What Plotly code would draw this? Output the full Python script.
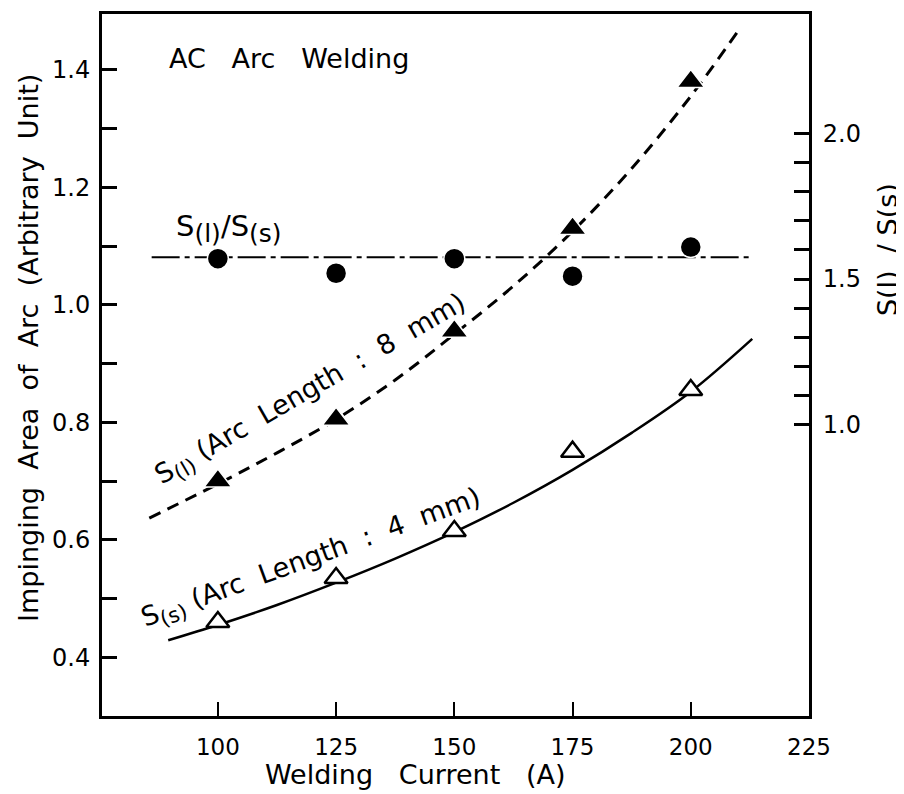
import plotly.graph_objects as go

# ---- data ----
current = [100, 125, 150, 175, 200]
s_large = [0.70, 0.805, 0.955, 1.13, 1.38]      # S(l), arc length 8 mm (filled triangles)
s_small = [0.46, 0.535, 0.615, 0.75, 0.855]     # S(s), arc length 4 mm (open triangles)
ratio = [1.57, 1.52, 1.57, 1.51, 1.61]          # S(l)/S(s) (filled circles, right axis)

curve_l_x = [85.5, 100, 112.5, 125, 137.5, 150, 162.5, 175, 187.5, 200, 210]
curve_l_y = [0.637, 0.695, 0.748, 0.805, 0.872, 0.95, 1.032, 1.125, 1.232, 1.355, 1.466]
curve_s_x = [89.5, 100, 112.5, 125, 137.5, 150, 162.5, 175, 187.5, 200, 213]
curve_s_y = [0.429, 0.455, 0.489, 0.527, 0.568, 0.613, 0.663, 0.719, 0.782, 0.852, 0.942]
ratio_line_x = [86, 213]
ratio_line_y = [1.575, 1.575]

x_ticks = [100, 125, 150, 175, 200, 225]
y_ticks = [0.4, 0.5, 0.6, 0.7, 0.8, 0.9, 1.0, 1.1, 1.2, 1.3, 1.4]
y_labels = ["0.4", "", "0.6", "", "0.8", "", "1.0", "", "1.2", "", "1.4"]
y2_ticks = [1.0, 1.1, 1.2, 1.3, 1.4, 1.5, 1.6, 1.7, 1.8, 1.9, 2.0]
y2_labels = ["1.0", "", "", "", "", "1.5", "", "", "", "", "2.0"]

FONT = "DejaVu Sans"
BLACK = "black"


def sub(t, size):
    return "<sub><span style='font-size:%dpx'>%s</span></sub>" % (size, t)


fig = go.Figure()

# curves
fig.add_trace(go.Scatter(x=curve_l_x, y=curve_l_y, mode="lines", line_shape="spline",
                         line=dict(color=BLACK, width=3, dash="12px,8px"), hoverinfo="skip"))
fig.add_trace(go.Scatter(x=curve_s_x, y=curve_s_y, mode="lines", line_shape="spline",
                         line=dict(color=BLACK, width=2.5), hoverinfo="skip"))
fig.add_trace(go.Scatter(x=ratio_line_x, y=ratio_line_y, mode="lines", yaxis="y2",
                         line=dict(color=BLACK, width=2, dash="28px,5px,5px,5px"), hoverinfo="skip"))

# markers
fig.add_trace(go.Scatter(x=current, y=s_large, mode="markers",
                         marker=dict(symbol="triangle-up", size=24, color=BLACK,
                                     line=dict(color="white", width=1.5))))
fig.add_trace(go.Scatter(x=current, y=s_small, mode="markers",
                         marker=dict(symbol="triangle-up", size=20, color="white",
                                     line=dict(color=BLACK, width=2.5))))
fig.add_trace(go.Scatter(x=current, y=ratio, mode="markers", yaxis="y2",
                         marker=dict(symbol="circle", size=21, color=BLACK,
                                     line=dict(color="white", width=1.5))))

C = dict(showarrow=False, xanchor="center", yanchor="middle")
annotations = [
    dict(text="AC   Arc   Welding", x=0.264, y=0.936, xref="paper", yref="paper",
         font=dict(size=27), **C),
    dict(text="S" + sub("(l)", 25) + "/S" + sub("(s)", 25), x=0.18, y=0.695,
         xref="paper", yref="paper", font=dict(size=29), **C),
    dict(text="S" + sub("(l)", 21) + " (Arc  Length  :  8  mm)", x=0.296, y=0.465,
         xref="paper", yref="paper", textangle=-30, font=dict(size=27), **C),
    dict(text="S" + sub("(s)", 21) + " (Arc  Length  :  4  mm)", x=0.297, y=0.224,
         xref="paper", yref="paper", textangle=-20, font=dict(size=27), **C),
    dict(text="S(l)  / S(s)", x=1.112, y=0.664, xref="paper", yref="paper",
         textangle=-90, font=dict(size=27), **C),
    dict(text="Impinging  Area  of  Arc  (Arbitrary  Unit)", x=-0.105, y=0.524,
         xref="paper", yref="paper", textangle=-90, font=dict(size=27), **C),
    dict(text="Welding   Current   (A)", x=0.444, y=-0.084, xref="paper", yref="paper",
         font=dict(size=27), **C),
]

fig.update_layout(
    width=904, height=794,
    margin=dict(l=94, r=103, t=3, b=86),
    paper_bgcolor="white", plot_bgcolor="white",
    showlegend=False,
    font=dict(family=FONT, color=BLACK, size=22),
    annotations=annotations,
    xaxis=dict(range=[75.5, 225], showgrid=False, zeroline=False,
               showline=True, linecolor=BLACK, linewidth=3, mirror=True,
               ticks="inside", ticklen=14, tickwidth=2, tickcolor=BLACK,
               tickvals=x_ticks, ticktext=[str(v) for v in x_ticks],
               ticklabelstandoff=8, tickfont=dict(size=23)),
    yaxis=dict(range=[0.3, 1.495], showgrid=False, zeroline=False,
               showline=True, linecolor=BLACK, linewidth=3,
               ticks="inside", ticklen=15, tickwidth=2.5, tickcolor=BLACK,
               tickvals=y_ticks, ticktext=y_labels,
               ticklabelstandoff=4, tickfont=dict(size=24)),
    yaxis2=dict(range=[0.0, 2.41], overlaying="y", side="right", showgrid=False,
                zeroline=False, showline=True, linecolor=BLACK, linewidth=3,
                ticks="inside", ticklen=15, tickwidth=2.5, tickcolor=BLACK,
                tickvals=y2_ticks, ticktext=y2_labels,
                ticklabelstandoff=6, tickfont=dict(size=24)),
)

fig.write_html("out.html")
